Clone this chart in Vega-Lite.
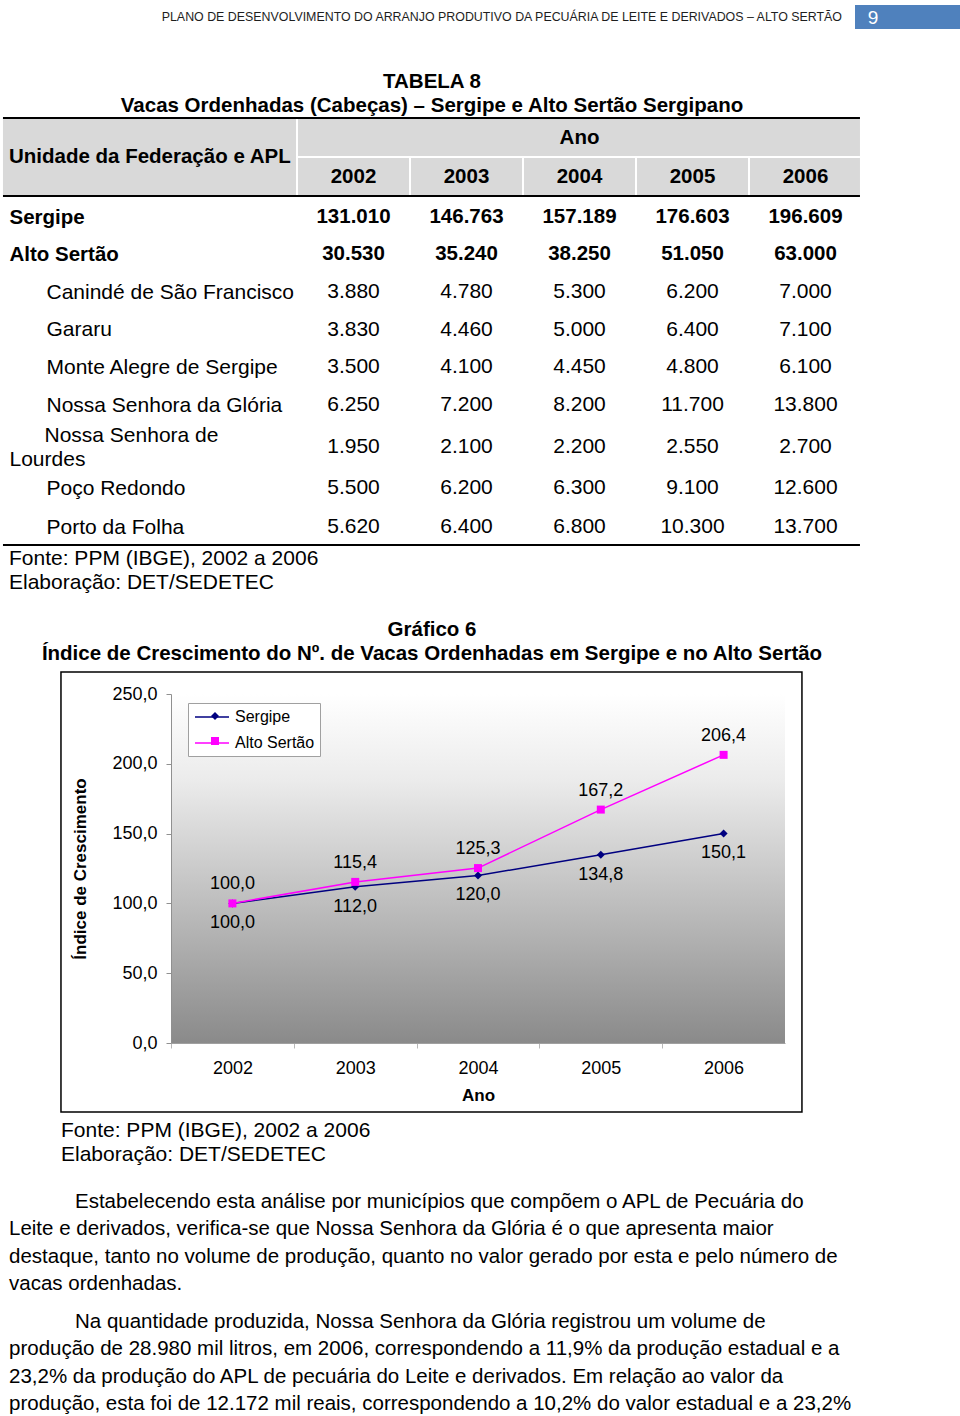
{
  "$schema": "https://vega.github.io/schema/vega-lite/v6.json",
  "width": 960,
  "height": 1416,
  "autosize": {"type": "none"},
  "padding": 0,
  "background": "#ffffff",
  "config": {
    "view": {"stroke": null},
    "locale": {"number": {"decimal": ",", "thousands": ".", "grouping": [3], "currency": ["R$", ""]}},
    "text": {"font": "Liberation Sans", "fontSize": 21, "color": "#000000"}
  },
  "datasets": {
    "cabecalho": [{"titulo": "PLANO DE DESENVOLVIMENTO DO ARRANJO PRODUTIVO DA PECUÁRIA DE LEITE E DERIVADOS – ALTO SERTÃO", "pagina": "9"}],
    "quadros": [
      {"quadro": "Tabela 8", "titulo": "TABELA 8\nVacas Ordenhadas (Cabeças) – Sergipe e Alto Sertão Sergipano", "fonte": "Fonte: PPM (IBGE), 2002 a 2006\nElaboração: DET/SEDETEC"},
      {"quadro": "Gráfico 6", "titulo": "Gráfico 6\nÍndice de Crescimento do Nº. de Vacas Ordenhadas em Sergipe e no Alto Sertão", "fonte": "Fonte: PPM (IBGE), 2002 a 2006\nElaboração: DET/SEDETEC"}
    ],
    "tabela": [
      {"unidade": "Sergipe", "abrangencia": "Estado", "ano": 2002, "vacas": 131010},
      {"unidade": "Sergipe", "abrangencia": "Estado", "ano": 2003, "vacas": 146763},
      {"unidade": "Sergipe", "abrangencia": "Estado", "ano": 2004, "vacas": 157189},
      {"unidade": "Sergipe", "abrangencia": "Estado", "ano": 2005, "vacas": 176603},
      {"unidade": "Sergipe", "abrangencia": "Estado", "ano": 2006, "vacas": 196609},
      {"unidade": "Alto Sertão", "abrangencia": "APL", "ano": 2002, "vacas": 30530},
      {"unidade": "Alto Sertão", "abrangencia": "APL", "ano": 2003, "vacas": 35240},
      {"unidade": "Alto Sertão", "abrangencia": "APL", "ano": 2004, "vacas": 38250},
      {"unidade": "Alto Sertão", "abrangencia": "APL", "ano": 2005, "vacas": 51050},
      {"unidade": "Alto Sertão", "abrangencia": "APL", "ano": 2006, "vacas": 63000},
      {"unidade": "Canindé de São Francisco", "abrangencia": "Município", "ano": 2002, "vacas": 3880},
      {"unidade": "Canindé de São Francisco", "abrangencia": "Município", "ano": 2003, "vacas": 4780},
      {"unidade": "Canindé de São Francisco", "abrangencia": "Município", "ano": 2004, "vacas": 5300},
      {"unidade": "Canindé de São Francisco", "abrangencia": "Município", "ano": 2005, "vacas": 6200},
      {"unidade": "Canindé de São Francisco", "abrangencia": "Município", "ano": 2006, "vacas": 7000},
      {"unidade": "Gararu", "abrangencia": "Município", "ano": 2002, "vacas": 3830},
      {"unidade": "Gararu", "abrangencia": "Município", "ano": 2003, "vacas": 4460},
      {"unidade": "Gararu", "abrangencia": "Município", "ano": 2004, "vacas": 5000},
      {"unidade": "Gararu", "abrangencia": "Município", "ano": 2005, "vacas": 6400},
      {"unidade": "Gararu", "abrangencia": "Município", "ano": 2006, "vacas": 7100},
      {"unidade": "Monte Alegre de Sergipe", "abrangencia": "Município", "ano": 2002, "vacas": 3500},
      {"unidade": "Monte Alegre de Sergipe", "abrangencia": "Município", "ano": 2003, "vacas": 4100},
      {"unidade": "Monte Alegre de Sergipe", "abrangencia": "Município", "ano": 2004, "vacas": 4450},
      {"unidade": "Monte Alegre de Sergipe", "abrangencia": "Município", "ano": 2005, "vacas": 4800},
      {"unidade": "Monte Alegre de Sergipe", "abrangencia": "Município", "ano": 2006, "vacas": 6100},
      {"unidade": "Nossa Senhora da Glória", "abrangencia": "Município", "ano": 2002, "vacas": 6250},
      {"unidade": "Nossa Senhora da Glória", "abrangencia": "Município", "ano": 2003, "vacas": 7200},
      {"unidade": "Nossa Senhora da Glória", "abrangencia": "Município", "ano": 2004, "vacas": 8200},
      {"unidade": "Nossa Senhora da Glória", "abrangencia": "Município", "ano": 2005, "vacas": 11700},
      {"unidade": "Nossa Senhora da Glória", "abrangencia": "Município", "ano": 2006, "vacas": 13800},
      {"unidade": "Nossa Senhora de Lourdes", "abrangencia": "Município", "ano": 2002, "vacas": 1950},
      {"unidade": "Nossa Senhora de Lourdes", "abrangencia": "Município", "ano": 2003, "vacas": 2100},
      {"unidade": "Nossa Senhora de Lourdes", "abrangencia": "Município", "ano": 2004, "vacas": 2200},
      {"unidade": "Nossa Senhora de Lourdes", "abrangencia": "Município", "ano": 2005, "vacas": 2550},
      {"unidade": "Nossa Senhora de Lourdes", "abrangencia": "Município", "ano": 2006, "vacas": 2700},
      {"unidade": "Poço Redondo", "abrangencia": "Município", "ano": 2002, "vacas": 5500},
      {"unidade": "Poço Redondo", "abrangencia": "Município", "ano": 2003, "vacas": 6200},
      {"unidade": "Poço Redondo", "abrangencia": "Município", "ano": 2004, "vacas": 6300},
      {"unidade": "Poço Redondo", "abrangencia": "Município", "ano": 2005, "vacas": 9100},
      {"unidade": "Poço Redondo", "abrangencia": "Município", "ano": 2006, "vacas": 12600},
      {"unidade": "Porto da Folha", "abrangencia": "Município", "ano": 2002, "vacas": 5620},
      {"unidade": "Porto da Folha", "abrangencia": "Município", "ano": 2003, "vacas": 6400},
      {"unidade": "Porto da Folha", "abrangencia": "Município", "ano": 2004, "vacas": 6800},
      {"unidade": "Porto da Folha", "abrangencia": "Município", "ano": 2005, "vacas": 10300},
      {"unidade": "Porto da Folha", "abrangencia": "Município", "ano": 2006, "vacas": 13700}
    ],
    "indice": [
      {"ano": 2002, "serie": "Sergipe", "indice": 100.0},
      {"ano": 2003, "serie": "Sergipe", "indice": 112.0},
      {"ano": 2004, "serie": "Sergipe", "indice": 120.0},
      {"ano": 2005, "serie": "Sergipe", "indice": 134.8},
      {"ano": 2006, "serie": "Sergipe", "indice": 150.1},
      {"ano": 2002, "serie": "Alto Sertão", "indice": 100.0},
      {"ano": 2003, "serie": "Alto Sertão", "indice": 115.4},
      {"ano": 2004, "serie": "Alto Sertão", "indice": 125.3},
      {"ano": 2005, "serie": "Alto Sertão", "indice": 167.2},
      {"ano": 2006, "serie": "Alto Sertão", "indice": 206.4}
    ],
    "texto": [
      {"paragrafo": 1, "linha": 1, "texto": "Estabelecendo esta análise por municípios que compõem o APL de Pecuária do"},
      {"paragrafo": 1, "linha": 2, "texto": "Leite e derivados, verifica-se que Nossa Senhora da Glória é o que apresenta maior"},
      {"paragrafo": 1, "linha": 3, "texto": "destaque, tanto no volume de produção, quanto no valor gerado por esta e pelo número de"},
      {"paragrafo": 1, "linha": 4, "texto": "vacas ordenhadas."},
      {"paragrafo": 2, "linha": 1, "texto": "Na quantidade produzida, Nossa Senhora da Glória registrou um volume de"},
      {"paragrafo": 2, "linha": 2, "texto": "produção de 28.980 mil litros, em 2006, correspondendo a 11,9% da produção estadual e a"},
      {"paragrafo": 2, "linha": 3, "texto": "23,2% da produção do APL de pecuária do Leite e derivados. Em relação ao valor da"},
      {"paragrafo": 2, "linha": 4, "texto": "produção, esta foi de 12.172 mil reais, correspondendo a 10,2% do valor estadual e a 23,2%"}
    ]
  },
  "layer": [
    {
      "data": {"name": "cabecalho"},
      "mark": {"type": "text", "align": "right", "baseline": "middle", "fontSize": 12.4, "color": "#1e1e1e"},
      "encoding": {
        "text": {"field": "titulo"},
        "x": {"field": "pagina", "type": "nominal", "scale": {"type": "point", "range": [842, 842], "padding": 0}, "axis": null},
        "y": {"field": "pagina", "type": "nominal", "scale": {"type": "point", "range": [17, 17], "padding": 0}, "axis": null}
      }
    },
    {
      "data": {"name": "cabecalho"},
      "mark": {"type": "rect", "color": "#4F81BD"},
      "encoding": {
        "x": {"field": "pagina", "type": "nominal", "scale": {"type": "band", "range": [855, 960], "paddingInner": 0, "paddingOuter": 0}, "axis": null},
        "y": {"field": "pagina", "type": "nominal", "scale": {"type": "band", "range": [5, 29], "paddingInner": 0, "paddingOuter": 0}, "axis": null}
      }
    },
    {
      "data": {"name": "cabecalho"},
      "mark": {"type": "text", "align": "center", "baseline": "middle", "fontSize": 19, "color": "#ffffff"},
      "encoding": {
        "text": {"field": "pagina"},
        "x": {"field": "pagina", "type": "nominal", "scale": {"type": "point", "range": [873, 873], "padding": 0}, "axis": null},
        "y": {"field": "pagina", "type": "nominal", "scale": {"type": "point", "range": [18, 18], "padding": 0}, "axis": null}
      }
    },
    {
      "data": {"name": "quadros"},
      "mark": {"type": "text", "align": "center", "baseline": "middle", "fontSize": 20.5, "fontWeight": "bold", "lineBreak": "\n", "lineHeight": 24},
      "encoding": {
        "text": {"field": "titulo"},
        "x": {"field": "quadro", "type": "nominal", "sort": null, "scale": {"type": "point", "range": [432, 432], "padding": 0}, "axis": null},
        "y": {"field": "quadro", "type": "nominal", "sort": null, "scale": {"type": "point", "range": [82, 630], "padding": 0}, "axis": null}
      }
    },
    {
      "data": {"name": "quadros"},
      "mark": {"type": "text", "align": "left", "baseline": "middle", "lineBreak": "\n", "lineHeight": 24},
      "encoding": {
        "text": {"field": "fonte"},
        "x": {"field": "quadro", "type": "nominal", "sort": null, "scale": {"type": "point", "range": [9, 61], "padding": 0}, "axis": null},
        "y": {"field": "quadro", "type": "nominal", "sort": null, "scale": {"type": "point", "range": [559, 1131], "padding": 0}, "axis": null}
      }
    },
    {
      "layer": [
        {
          "data": {"values": [{}]},
          "mark": {"type": "rect", "color": "#D9D9D9"},
          "encoding": {
            "x": {"datum": 1998.898, "type": "quantitative", "scale": {"domain": [2001.5, 2006.5], "range": [297, 862], "nice": false, "zero": false}, "axis": null},
            "x2": {"datum": 2006.482},
            "y": {"datum": 0, "type": "quantitative", "scale": {"domain": [0, 2], "range": [118, 196], "nice": false, "zero": false}, "axis": null},
            "y2": {"datum": 2}
          }
        },
        {
          "data": {"values": [{}]},
          "mark": {"type": "rule", "color": "#ffffff", "strokeWidth": 2},
          "encoding": {
            "x": {"datum": 2001.5, "type": "quantitative", "scale": {"domain": [2001.5, 2006.5], "range": [297, 862], "nice": false, "zero": false}, "axis": null},
            "y": {"datum": 0, "type": "quantitative", "scale": {"domain": [0, 2], "range": [118, 196], "nice": false, "zero": false}, "axis": null},
            "y2": {"datum": 2}
          }
        },
        {
          "data": {"values": [{}]},
          "mark": {"type": "rule", "color": "#ffffff", "strokeWidth": 2},
          "encoding": {
            "x": {"datum": 2001.5, "type": "quantitative", "scale": {"domain": [2001.5, 2006.5], "range": [297, 862], "nice": false, "zero": false}, "axis": null},
            "x2": {"datum": 2006.482},
            "y": {"datum": 1, "type": "quantitative", "scale": {"domain": [0, 2], "range": [118, 196], "nice": false, "zero": false}, "axis": null}
          }
        },
        {
          "data": {"name": "tabela"},
          "transform": [{"aggregate": [{"op": "count", "as": "n"}], "groupby": ["ano"]}, {"filter": "datum.ano > 2002"}],
          "mark": {"type": "rule", "color": "#ffffff", "strokeWidth": 2, "xOffset": -56.5},
          "encoding": {
            "x": {"field": "ano", "type": "quantitative", "scale": {"domain": [2001.5, 2006.5], "range": [297, 862], "nice": false, "zero": false}, "axis": null},
            "y": {"datum": 1, "type": "quantitative", "scale": {"domain": [0, 2], "range": [118, 196], "nice": false, "zero": false}, "axis": null},
            "y2": {"datum": 2}
          }
        },
        {
          "data": {"values": [{}]},
          "mark": {"type": "rule", "color": "#000000", "strokeWidth": 2},
          "encoding": {
            "x": {"datum": 1998.898, "type": "quantitative", "scale": {"domain": [2001.5, 2006.5], "range": [297, 862], "nice": false, "zero": false}, "axis": null},
            "x2": {"datum": 2006.482},
            "y": {"datum": 0, "type": "quantitative", "scale": {"domain": [0, 2], "range": [118, 196], "nice": false, "zero": false}, "axis": null}
          }
        },
        {
          "data": {"values": [{}]},
          "mark": {"type": "rule", "color": "#000000", "strokeWidth": 2},
          "encoding": {
            "x": {"datum": 1998.898, "type": "quantitative", "scale": {"domain": [2001.5, 2006.5], "range": [297, 862], "nice": false, "zero": false}, "axis": null},
            "x2": {"datum": 2006.482},
            "y": {"datum": 2, "type": "quantitative", "scale": {"domain": [0, 2], "range": [118, 196], "nice": false, "zero": false}, "axis": null}
          }
        },
        {
          "data": {"values": [{}]},
          "mark": {"type": "rule", "color": "#000000", "strokeWidth": 2},
          "encoding": {
            "x": {"datum": 1998.898, "type": "quantitative", "scale": {"domain": [2001.5, 2006.5], "range": [297, 862], "nice": false, "zero": false}, "axis": null},
            "x2": {"datum": 2006.482},
            "y": {"datum": 10.95, "type": "quantitative", "scale": {"domain": [0, 2], "range": [118, 196], "nice": false, "zero": false}, "axis": null}
          }
        },
        {
          "data": {"values": [{"coluna": "Unidade da Federação e APL"}]},
          "mark": {"type": "text", "align": "left", "baseline": "middle", "fontWeight": "bold", "fontSize": 20.5},
          "encoding": {
            "text": {"field": "coluna"},
            "x": {"datum": 1998.951, "type": "quantitative", "scale": {"domain": [2001.5, 2006.5], "range": [297, 862], "nice": false, "zero": false}, "axis": null},
            "y": {"datum": 1, "type": "quantitative", "scale": {"domain": [0, 2], "range": [118, 196], "nice": false, "zero": false}, "axis": null}
          }
        },
        {
          "data": {"values": [{"coluna": "Ano"}]},
          "mark": {"type": "text", "align": "center", "baseline": "middle", "fontWeight": "bold", "fontSize": 20.5},
          "encoding": {
            "text": {"field": "coluna"},
            "x": {"datum": 2004, "type": "quantitative", "scale": {"domain": [2001.5, 2006.5], "range": [297, 862], "nice": false, "zero": false}, "axis": null},
            "y": {"datum": 0.5, "type": "quantitative", "scale": {"domain": [0, 2], "range": [118, 196], "nice": false, "zero": false}, "axis": null}
          }
        },
        {
          "data": {"name": "tabela"},
          "transform": [{"aggregate": [{"op": "count", "as": "n"}], "groupby": ["ano"]}],
          "mark": {"type": "text", "align": "center", "baseline": "middle", "fontWeight": "bold", "fontSize": 20.5},
          "encoding": {
            "text": {"field": "ano", "type": "ordinal"},
            "x": {"field": "ano", "type": "quantitative", "scale": {"domain": [2001.5, 2006.5], "range": [297, 862], "nice": false, "zero": false}, "axis": null},
            "y": {"datum": 1.5, "type": "quantitative", "scale": {"domain": [0, 2], "range": [118, 196], "nice": false, "zero": false}, "axis": null}
          }
        }
      ]
    },
    {
      "data": {"name": "tabela"},
      "transform": [{"filter": {"field": "unidade", "oneOf": ["Sergipe", "Alto Sertão"]}}],
      "mark": {"type": "text", "align": "center", "baseline": "middle", "fontWeight": "bold", "fontSize": 20.5},
      "encoding": {
        "text": {"field": "vacas", "type": "quantitative", "format": ",d"},
        "x": {"field": "ano", "type": "quantitative", "scale": {"domain": [2001.5, 2006.5], "range": [297, 862], "nice": false, "zero": false}, "axis": null},
        "y": {"field": "unidade", "type": "nominal", "sort": null, "scale": {"type": "point", "range": [217, 254], "padding": 0},
          "axis": {"orient": "left", "offset": -9, "title": null, "domain": false, "ticks": false, "tickSize": 0, "labelPadding": 0, "labelAlign": "left", "labelBaseline": "middle", "labelFont": "Liberation Sans", "labelFontSize": 20.5, "labelFontWeight": "bold", "labelColor": "#000000", "labelLimit": 0, "labelOverlap": false, "grid": false}}
      }
    },
    {
      "data": {"name": "tabela"},
      "transform": [{"filter": {"field": "unidade", "oneOf": ["Canindé de São Francisco", "Gararu", "Monte Alegre de Sergipe", "Nossa Senhora da Glória"]}}],
      "mark": {"type": "text", "align": "center", "baseline": "middle"},
      "encoding": {
        "text": {"field": "vacas", "type": "quantitative", "format": ",d"},
        "x": {"field": "ano", "type": "quantitative", "scale": {"domain": [2001.5, 2006.5], "range": [297, 862], "nice": false, "zero": false}, "axis": null},
        "y": {"field": "unidade", "type": "nominal", "sort": null, "scale": {"type": "point", "range": [292, 405], "padding": 0},
          "axis": {"orient": "left", "offset": -46, "title": null, "domain": false, "ticks": false, "tickSize": 0, "labelPadding": 0, "labelAlign": "left", "labelBaseline": "middle", "labelFont": "Liberation Sans", "labelFontSize": 21, "labelColor": "#000000", "labelLimit": 0, "labelOverlap": false, "grid": false}}
      }
    },
    {
      "data": {"name": "tabela"},
      "transform": [{"filter": {"field": "unidade", "oneOf": ["Nossa Senhora de Lourdes"]}}],
      "mark": {"type": "text", "align": "center", "baseline": "middle"},
      "encoding": {
        "text": {"field": "vacas", "type": "quantitative", "format": ",d"},
        "x": {"field": "ano", "type": "quantitative", "scale": {"domain": [2001.5, 2006.5], "range": [297, 862], "nice": false, "zero": false}, "axis": null},
        "y": {"field": "unidade", "type": "nominal", "sort": null, "scale": {"type": "point", "range": [447, 447], "padding": 0},
          "axis": {"orient": "left", "offset": -9, "title": null, "domain": false, "ticks": false, "tickSize": 0, "labelPadding": 0, "labelAlign": "left", "labelBaseline": "middle", "labelFont": "Liberation Sans", "labelFontSize": 21, "labelColor": "#000000", "labelLimit": 0, "labelOverlap": false, "labelLineHeight": 24, "labelOffset": -12, "grid": false,
            "labelExpr": "['\u200b\u00a0\u00a0\u00a0\u00a0\u00a0\u00a0Nossa Senhora de', 'Lourdes']"}}
      }
    },
    {
      "data": {"name": "tabela"},
      "transform": [{"filter": {"field": "unidade", "oneOf": ["Poço Redondo", "Porto da Folha"]}}],
      "mark": {"type": "text", "align": "center", "baseline": "middle"},
      "encoding": {
        "text": {"field": "vacas", "type": "quantitative", "format": ",d"},
        "x": {"field": "ano", "type": "quantitative", "scale": {"domain": [2001.5, 2006.5], "range": [297, 862], "nice": false, "zero": false}, "axis": null},
        "y": {"field": "unidade", "type": "nominal", "sort": null, "scale": {"type": "point", "range": [488, 527], "padding": 0},
          "axis": {"orient": "left", "offset": -46, "title": null, "domain": false, "ticks": false, "tickSize": 0, "labelPadding": 0, "labelAlign": "left", "labelBaseline": "middle", "labelFont": "Liberation Sans", "labelFontSize": 21, "labelColor": "#000000", "labelLimit": 0, "labelOverlap": false, "grid": false}}
      }
    },
    {
      "data": {"name": "texto"},
      "transform": [{"filter": "datum.paragrafo == 1"}],
      "encoding": {
        "text": {"field": "texto"},
        "y": {"field": "linha", "type": "ordinal", "scale": {"type": "point", "range": [1202, 1284], "padding": 0}, "axis": null}
      },
      "layer": [
        {
          "transform": [{"filter": "datum.linha == 1"}],
          "mark": {"type": "text", "align": "left", "baseline": "middle", "fontSize": 20.5},
          "encoding": {"x": {"field": "paragrafo", "type": "nominal", "scale": {"type": "point", "range": [75, 75], "padding": 0}, "axis": null}}
        },
        {
          "transform": [{"filter": "datum.linha > 1"}],
          "mark": {"type": "text", "align": "left", "baseline": "middle", "fontSize": 20.5},
          "encoding": {"x": {"field": "paragrafo", "type": "nominal", "scale": {"type": "point", "range": [9, 9], "padding": 0}, "axis": null}}
        }
      ],
      "resolve": {"scale": {"x": "independent"}}
    },
    {
      "data": {"name": "texto"},
      "transform": [{"filter": "datum.paragrafo == 2"}],
      "encoding": {
        "text": {"field": "texto"},
        "y": {"field": "linha", "type": "ordinal", "scale": {"type": "point", "range": [1322, 1404], "padding": 0}, "axis": null}
      },
      "layer": [
        {
          "transform": [{"filter": "datum.linha == 1"}],
          "mark": {"type": "text", "align": "left", "baseline": "middle", "fontSize": 20.5},
          "encoding": {"x": {"field": "paragrafo", "type": "nominal", "scale": {"type": "point", "range": [75, 75], "padding": 0}, "axis": null}}
        },
        {
          "transform": [{"filter": "datum.linha > 1"}],
          "mark": {"type": "text", "align": "left", "baseline": "middle", "fontSize": 20.5},
          "encoding": {"x": {"field": "paragrafo", "type": "nominal", "scale": {"type": "point", "range": [9, 9], "padding": 0}, "axis": null}}
        }
      ],
      "resolve": {"scale": {"x": "independent"}}
    },
    {
      "layer": [
        {
          "data": {"values": [{}]},
          "mark": {"type": "rect", "fill": "#ffffff", "stroke": "#000000", "strokeWidth": 1.5},
          "encoding": {
            "x": {"datum": 2000.604, "type": "quantitative", "scale": {"domain": [2001.5, 2006.5], "range": [171, 785], "nice": false, "zero": false}},
            "x2": {"datum": 2006.638},
            "y": {"datum": 265.8, "type": "quantitative", "scale": {"domain": [0, 250], "range": [1043, 694], "nice": false, "zero": false}},
            "y2": {"datum": -49.4}
          }
        },
        {
          "data": {"values": [{}]},
          "mark": {"type": "rect", "color": {"x1": 0, "y1": 0, "x2": 0, "y2": 1, "gradient": "linear", "stops": [{"offset": 0, "color": "#ffffff"}, {"offset": 0.25, "color": "#ebebeb"}, {"offset": 1, "color": "#8a8a8a"}]}},
          "encoding": {
            "x": {"datum": 2001.5, "type": "quantitative", "scale": {"domain": [2001.5, 2006.5], "range": [171, 785], "nice": false, "zero": false}},
            "x2": {"datum": 2006.5},
            "y": {"datum": 250, "type": "quantitative", "scale": {"domain": [0, 250], "range": [1043, 694], "nice": false, "zero": false}},
            "y2": {"datum": 0}
          }
        },
        {
          "data": {"name": "indice"},
          "mark": {"type": "line", "strokeWidth": 1.5},
          "encoding": {
            "x": {"field": "ano", "type": "quantitative", "scale": {"domain": [2001.5, 2006.5], "range": [171, 785], "nice": false, "zero": false},
              "axis": {"orient": "bottom", "offset": -373, "zindex": 1, "values": [2002, 2003, 2004, 2005, 2006, 2007],
                "labelExpr": "datum.value > 2006 ? '' : format(datum.value, 'd')",
                "tickOffset": -61.4, "labelOffset": 61.4,
                "labelFont": "Liberation Sans", "labelFontSize": 18, "labelColor": "#000000", "labelPadding": 11, "labelOverlap": false, "labelFlush": false, "labelBound": false,
                "tickSize": 5, "tickColor": "#b8b8b8",
                "domainColor": "#a0a0a0", "grid": false,
                "title": "Ano", "titleFont": "Liberation Sans", "titleFontSize": 17, "titleFontWeight": "bold", "titleColor": "#000000", "titlePadding": 10}},
            "y": {"field": "indice", "type": "quantitative", "scale": {"domain": [0, 250], "range": [1043, 694], "nice": false, "zero": false},
              "axis": {"orient": "left", "offset": -171, "zindex": 1, "values": [0, 50, 100, 150, 200, 250], "format": ".1f",
                "labelFont": "Liberation Sans", "labelFontSize": 18, "labelColor": "#000000", "labelPadding": 9,
                "tickSize": 5, "tickColor": "#909090", "domainColor": "#909090", "grid": false,
                "title": "Índice de Crescimento", "titleFont": "Liberation Sans", "titleFontSize": 17, "titleFontWeight": "bold", "titleColor": "#000000", "titlePadding": 22}},
            "stroke": {"field": "serie", "type": "nominal", "sort": null, "scale": {"range": ["#000080", "#FF00FF"]},
              "legend": {"orient": "none", "legendX": 188, "legendY": 703, "zindex": 1, "title": null, "padding": 5, "fillColor": "#ffffff", "strokeColor": "#a0a0a0",
                "labelFont": "Liberation Sans", "labelFontSize": 16, "labelColor": "#000000", "rowPadding": 9,
                "symbolType": "M-2.125,0L2.125,0", "symbolSize": 256, "symbolStrokeWidth": 1.5, "symbolOffset": 10, "labelOffset": 14}}
          }
        },
        {
          "data": {"name": "indice"},
          "mark": {"type": "point", "filled": true, "size": 64, "opacity": 1},
          "encoding": {
            "x": {"field": "ano", "type": "quantitative", "scale": {"domain": [2001.5, 2006.5], "range": [171, 785], "nice": false, "zero": false}},
            "y": {"field": "indice", "type": "quantitative", "scale": {"domain": [0, 250], "range": [1043, 694], "nice": false, "zero": false}},
            "fill": {"field": "serie", "type": "nominal", "sort": null, "scale": {"domain": ["Sergipe", "Alto Sertão"], "range": ["#000080", "#FF00FF"]},
              "legend": {"orient": "none", "legendX": 188, "legendY": 703, "zindex": 2, "title": null, "padding": 5,
                "labelFont": "Liberation Sans", "labelFontSize": 16, "labelExpr": "''", "rowPadding": 9, "symbolSize": 64, "symbolOffset": 14, "labelOffset": 18, "symbolStrokeWidth": 0}},
            "shape": {"field": "serie", "type": "nominal", "sort": null, "scale": {"domain": ["Sergipe", "Alto Sertão"], "range": ["diamond", "square"]},
              "legend": {"orient": "none", "legendX": 188, "legendY": 703, "zindex": 2, "title": null, "padding": 5,
                "labelFont": "Liberation Sans", "labelFontSize": 16, "labelExpr": "''", "rowPadding": 9, "symbolSize": 64, "symbolOffset": 14, "labelOffset": 18, "symbolStrokeWidth": 0}}
          }
        },
        {
          "data": {"name": "indice"},
          "transform": [{"filter": "datum.serie == 'Alto Sertão'"}],
          "mark": {"type": "text", "align": "center", "baseline": "middle", "font": "Liberation Sans", "fontSize": 18, "dy": -19},
          "encoding": {
            "text": {"field": "indice", "type": "quantitative", "format": ".1f"},
            "x": {"field": "ano", "type": "quantitative", "scale": {"domain": [2001.5, 2006.5], "range": [171, 785], "nice": false, "zero": false}},
            "y": {"field": "indice", "type": "quantitative", "scale": {"domain": [0, 250], "range": [1043, 694], "nice": false, "zero": false}}
          }
        },
        {
          "data": {"name": "indice"},
          "transform": [{"filter": "datum.serie == 'Sergipe'"}],
          "mark": {"type": "text", "align": "center", "baseline": "middle", "font": "Liberation Sans", "fontSize": 18, "dy": 20},
          "encoding": {
            "text": {"field": "indice", "type": "quantitative", "format": ".1f"},
            "x": {"field": "ano", "type": "quantitative", "scale": {"domain": [2001.5, 2006.5], "range": [171, 785], "nice": false, "zero": false}},
            "y": {"field": "indice", "type": "quantitative", "scale": {"domain": [0, 250], "range": [1043, 694], "nice": false, "zero": false}}
          }
        }
      ]
    }
  ],
  "resolve": {
    "scale": {"x": "independent", "y": "independent"},
    "axis": {"x": "independent", "y": "independent"}
  }
}
